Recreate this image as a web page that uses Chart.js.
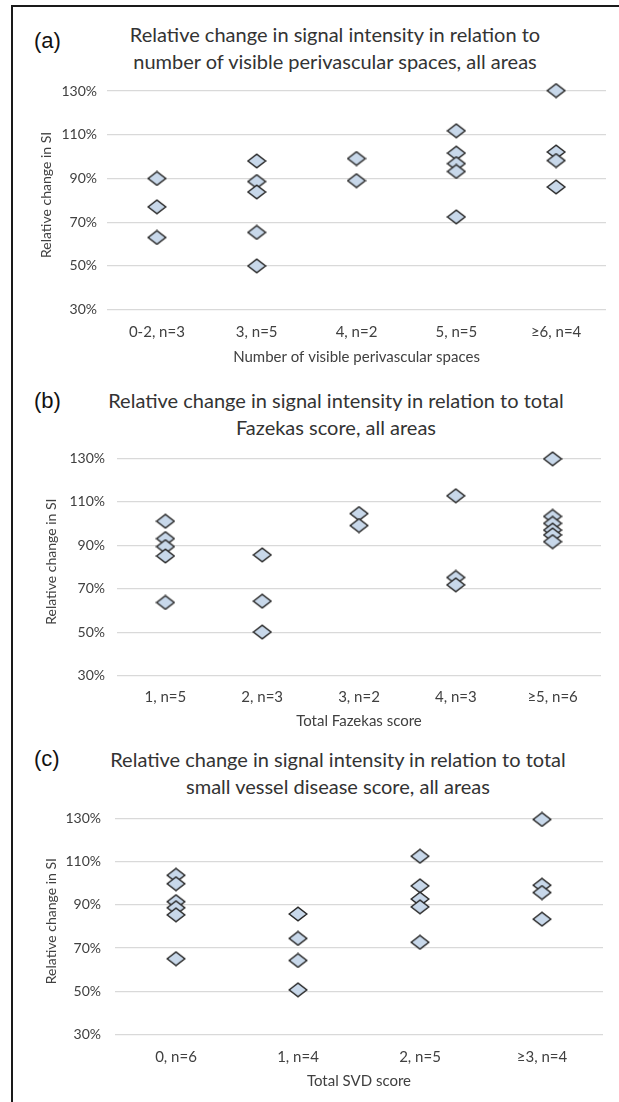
<!DOCTYPE html>
<html>
<head>
<meta charset="utf-8">
<script src="https://cdn.jsdelivr.net/npm/chart.js@4"></script>
<style>
body{margin:0;background:#fff;width:619px;height:1102px;position:relative;overflow:hidden;font-family:Lato,sans-serif}
.frame{position:absolute;left:11px;top:5px;width:620px;height:1110px;border-top:2px solid #1a1a1a;border-left:2px solid #1a1a1a}
.lbl{position:absolute;left:34px;font-family:'Liberation Sans',Arial,sans-serif;font-size:22px;line-height:24px;color:#111}
.ttl{position:absolute;width:600px;text-align:center;font-size:20px;line-height:27px;color:#333}
canvas{position:absolute;left:0}
</style>
</head>
<body>
<div class="frame"></div>

<div class="lbl" style="top:29px">(a)</div>
<div class="ttl" style="left:35px;top:21px">Relative change in signal intensity in relation to<br>number of visible perivascular spaces, all areas</div>
<canvas id="chartA"></canvas>

<div class="lbl" style="top:389px">(b)</div>
<div class="ttl" style="left:36px;top:387px">Relative change in signal intensity in relation to total<br>Fazekas score, all areas</div>
<canvas id="chartB"></canvas>

<div class="lbl" style="top:747px">(c)</div>
<div class="ttl" style="left:38px;top:746px">Relative change in signal intensity in relation to total<br>small vessel disease score, all areas</div>
<canvas id="chartC"></canvas>

<script>
// values (relative change in SI, %)
const pvsLabels = ['0-2, n=3', '3, n=5', '4, n=2', '5, n=5', '≥6, n=4'];
const pvsValues = [
  [90, 77, 63],
  [98, 88.6, 83.8, 65.3, 50],
  [99.1, 89],
  [111.8, 101.6, 96.8, 93.2, 72.4],
  [130.2, 102.1, 98.2, 86.1]
];

const fazLabels = ['1, n=5', '2, n=3', '3, n=2', '4, n=3', '≥5, n=6'];
const fazValues = [
  [101.1, 93.1, 89.4, 85.1, 63.7],
  [85.6, 64.3, 50.1],
  [104.6, 99.1],
  [112.8, 75.2, 71.8],
  [129.8, 103.3, 100.1, 97, 94.8, 91.7]
];

const svdLabels = ['0, n=6', '1, n=4', '2, n=5', '≥3, n=4'];
const svdValues = [
  [103.7, 99.8, 91.5, 88.7, 85.4, 65.1],
  [85.8, 74.5, 64.3, 50.7],
  [112.5, 98.8, 92.7, 89.1, 72.7],
  [129.5, 99.1, 95.7, 83.4]
];

const yMin = 30, yMax = 130, yStep = 20;
const yAxisTitle = '   Relative change in SI';

const textColor = '#404040';
const font = 'Lato';

// diamond marker, a bit wider than tall like the Excel one
function diamond() {
  const c = document.createElement('canvas');
  c.width = 20; c.height = 16;
  const x = c.getContext('2d');
  x.beginPath();
  x.moveTo(1.2, 8); x.lineTo(10, 1.2); x.lineTo(18.8, 8); x.lineTo(10, 14.8); x.closePath();
  x.fillStyle = '#c8d8ea'; x.fill();
  x.lineWidth = 1.5; x.strokeStyle = '#2a2a2a'; x.stroke();
  return c;
}
const marker = diamond();

function makeChart(id, labels, values, xTitle, g) {
  const cv = document.getElementById(id);
  const top = g.top130 - 20, bottom = g.titleY + 13;
  cv.style.top = top + 'px';
  cv.width = 619;
  cv.height = Math.round(bottom - top);
  const pts = [];
  values.forEach((arr, i) => arr.forEach(v => pts.push({x: labels[i], y: v})));
  new Chart(cv, {
    type: 'scatter',
    data: {labels, datasets: [{data: pts, pointStyle: marker, clip: false}]},
    options: {
      responsive: false, animation: false, events: [],
      layout: {padding: {top: 20, left: 0, right: 619 - g.right, bottom: 0}},
      plugins: {legend: {display: false}, tooltip: {enabled: false}},
      scales: {
        x: {
          type: 'category', labels, offset: true,
          grid: {display: false}, border: {display: false},
          ticks: {color: textColor, font: {family: font, size: 15}, padding: g.tickY - g.bottom30 - 17},
          title: {display: true, text: xTitle, color: textColor, font: {family: font, size: 15}, padding: {top: 0, bottom: 4}},
          afterFit: s => { s.height = cv.height - (g.bottom30 - top); }
        },
        y: {
          min: yMin, max: yMax,
          ticks: {stepSize: yStep, callback: v => v + '%', color: textColor, font: {family: font, size: 14}, padding: g.tickPad},
          grid: {color: '#d9d9d9', lineWidth: 1.3, drawTicks: false},
          border: {display: false},
          title: {display: true, text: yAxisTitle, color: textColor, font: {family: font, size: 14}, padding: {top: g.yTitleX - 8.4, bottom: 0}},
          afterFit: s => { s.width = g.left; }
        }
      }
    }
  });
}

makeChart('chartA', pvsLabels, pvsValues, 'Number of visible perivascular spaces',
  {left: 107, right: 606, top130: 90.7, bottom30: 309.3, tickY: 332, titleY: 357, tickPad: 10, yTitleX: 46});
makeChart('chartB', fazLabels, fazValues, 'Total Fazekas score',
  {left: 117, right: 601, top130: 458.3, bottom30: 676, tickY: 697.7, titleY: 721.7, tickPad: 12, yTitleX: 51});
makeChart('chartC', svdLabels, svdValues, 'Total SVD score',
  {left: 115, right: 603, top130: 815.7, bottom30: 1034.3, tickY: 1056.7, titleY: 1081, tickPad: 14, yTitleX: 51});
</script>
</body>
</html>
